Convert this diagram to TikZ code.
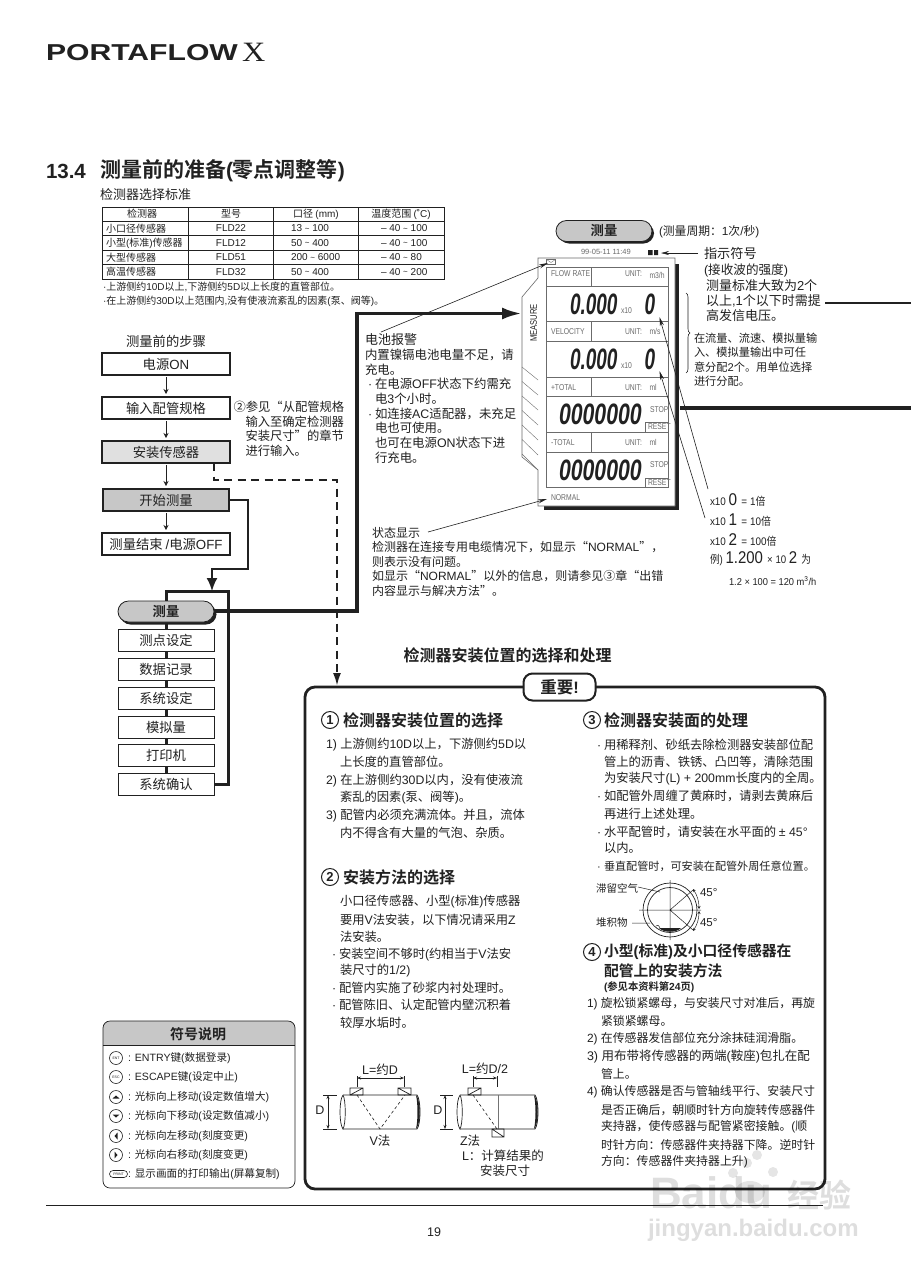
\documentclass[tikz,border=0pt]{standalone}
\usepackage{fontspec}
\usetikzlibrary{arrows.meta,decorations.pathreplacing,calc}
\setmainfont{Liberation Sans}
\newfontfamily\cjkf{Noto Sans CJK SC}[BoldFont={* Bold}]
\newfontfamily\latf{Liberation Sans}
\newfontfamily\serf{Liberation Serif}
\makeatletter
\XeTeXinterchartokenstate=1
\newXeTeXintercharclass\cjkclass
\@tempcnta="4E00 \loop \XeTeXcharclass\@tempcnta=\cjkclass \advance\@tempcnta 1 \ifnum\@tempcnta<"A000 \repeat
\@tempcnta="3000 \loop \XeTeXcharclass\@tempcnta=\cjkclass \advance\@tempcnta 1 \ifnum\@tempcnta<"3040 \repeat
\@tempcnta="FF00 \loop \XeTeXcharclass\@tempcnta=\cjkclass \advance\@tempcnta 1 \ifnum\@tempcnta<"FFF0 \repeat
\@tempcnta="2460 \loop \XeTeXcharclass\@tempcnta=\cjkclass \advance\@tempcnta 1 \ifnum\@tempcnta<"2474 \repeat
\XeTeXcharclass"201C=\cjkclass \XeTeXcharclass"201D=\cjkclass
\XeTeXinterchartoks 0 \cjkclass={\cjkf}
\XeTeXinterchartoks 4095 \cjkclass={\cjkf}
\XeTeXinterchartoks \cjkclass 0={\latf}
\XeTeXinterchartoks 4095 0={\latf}
\makeatother
\newcommand{\fs}[1]{\fontsize{#1}{#1}\selectfont}
\newcommand{\fl}[2]{\fontsize{#1}{#2}\selectfont}
\newcommand{\tld}{\raisebox{.5pt}{\scalebox{.8}{\textasciitilde}}}
\newcommand{\blt}{\makebox[7pt][l]{·}}
\newcommand{\serx}{{\XeTeXinterchartokenstate=0\relax\serf\fs{28}X}}
\definecolor{ink}{gray}{0.13}
\definecolor{pillgray}{gray}{0.78}
\definecolor{lcd}{gray}{0.42}
\tikzset{
 x=1pt,y=-1pt,
 every node/.style={inner sep=0pt,outer sep=0pt,text=ink},
 tl/.style={anchor=west,font=\fs{12.3}},
 tls/.style={anchor=west,font=\fs{11.9}},
 hd/.style={anchor=west,font=\fs{16}\bfseries},
 hds/.style={anchor=west,font=\fs{14.8}\bfseries},
 num/.style={circle,draw=ink,line width=1pt,minimum size=17pt,font=\fs{13}\bfseries},
 tb/.style={font=\fs{10}},
 flowbox/.style={draw=ink,line width=1.3pt,minimum width=128pt,minimum height=22pt,font=\fs{13.3},fill=white},
 menubox/.style={draw=ink,line width=.8pt,minimum width=96pt,minimum height=22pt,font=\fs{13.3},fill=white},
 pill/.style={draw=ink,line width=.8pt,rounded corners=10.5pt,fill=pillgray,minimum width=96pt,minimum height=21pt,font=\fs{13.3}\bfseries},
 pillsh/.style={fill=ink,rounded corners=10.5pt},
 flowarrow/.style={draw=ink,line width=1pt,-{Stealth[length=5pt,width=5pt]},shorten >=3pt,shorten <=2pt},
 lead/.style={draw=ink,line width=.6pt,-{Stealth[length=9pt,width=4pt]}},
 lcdt/.style={font=\fs{8.5},text=lcd,anchor=west},
 dim/.style={draw=ink,line width=.6pt,{Stealth[length=4pt,width=3pt]}-{Stealth[length=4pt,width=3pt]}},
 thin/.style={draw=ink,line width=.5pt},
 lg/.style={anchor=west,font=\fs{10.6}},
 key/.style={circle,draw=ink,line width=.6pt,minimum size=13pt,font=\fs{5}},
 wm/.style={text=black,text opacity=.13},
}
\newcommand{\seg}[2]{\scalebox{#1}[1.18]{\fs{25}\bfseries\itshape #2}}
\begin{document}
\begin{tikzpicture}
\useasboundingbox (0,0) rectangle (911,1280);
\fill[white] (0,0) rectangle (911,1280);
%% header
\node[anchor=west,font=\fs{23}\bfseries] (brand) at (46,52.5) {\scalebox{1.31}[1]{PORTAFLOW}};
\node[anchor=west] (brandx) at (242,52.5) {\scalebox{1.15}[1]{\serx}};
\node[anchor=west,font=\fs{20.5}\bfseries] (secn) at (46,171) {13.4};
\node[anchor=west,font=\fs{21}\bfseries] (sect) at (100,171) {测量前的准备(零点调整等)};
\node[anchor=west,font=\fs{13}] (tabt) at (100,195) {检测器选择标准};
%% table
\draw[ink,line width=1pt] (102,207) rectangle (444,279);
\foreach \yy in {221,235.5,250,264.5}{\draw[ink,line width=.5pt] (102,\yy) -- (444,\yy);}
\foreach \xx in {188,273,358.6}{\draw[ink,line width=.5pt] (\xx,207) -- (\xx,279);}
\node[tb] at (142,214) {检测器};
\node[tb] at (231,214) {型号};
\node[tb] at (316,214) {口径 (mm)};
\node[tb] at (401,214) {温度范围 (˚C)};
\node[tb,anchor=west] at (106,228.5) {小口径传感器};
\node[tb,anchor=west] at (106,243) {小型(标准)传感器};
\node[tb,anchor=west] at (106,257.5) {大型传感器};
\node[tb,anchor=west] at (106,272) {高温传感器};
\node[tb] at (231,228.5) {FLD22};
\node[tb] at (231,243) {FLD12};
\node[tb] at (231,257.5) {FLD51};
\node[tb] at (231,272) {FLD32};
\node[tb,anchor=west] at (291,228.5) {13 \tld{} 100};
\node[tb,anchor=west] at (291,243) {50 \tld{} 400};
\node[tb,anchor=west] at (291,257.5) {200 \tld{} 6000};
\node[tb,anchor=west] at (291,272) {50 \tld{} 400};
\node[tb,anchor=west] at (381,228.5) {– 40 \tld{} 100};
\node[tb,anchor=west] at (381,243) {– 40 \tld{} 100};
\node[tb,anchor=west] at (381,257.5) {– 40 \tld{} 80};
\node[tb,anchor=west] at (381,272) {– 40 \tld{} 200};
\node[tb,anchor=west] at (103,287) {·上游侧约10D以上,下游侧约5D以上长度的直管部位。};
\node[tb,anchor=west] at (103,301) {·在上游侧约30D以上范围内,没有使液流紊乱的因素(泵、阀等)。};
%% thick routes behind
\draw[ink,line width=3.6pt,-{Latex[length=20pt,width=12pt]}] (214,611) -- (357,611) -- (357,313.5) -- (522,313.5);
\coordinate (dashend) at (337,686);
\draw[ink,line width=2.2pt,dash pattern=on 8pt off 5.5pt,-{Latex[length=13pt,width=8pt]}] (214,463) -- (214,480) -- (337,480) -- (dashend);
%% flow
\node[font=\fs{13.3}] (ft) at (166,341) {测量前的步骤};
\node[flowbox,line width=1.5pt] (f1) at (166,364) {电源ON};
\node[flowbox] (f2) at (166,408) {输入配管规格};
\node[flowbox,fill=black!12] (f3) at (166,452) {安装传感器};
\node[flowbox,line width=2.6pt,fill=black!22,minimum width=126pt,minimum height=22pt] (f4) at (166,500) {开始测量};
\node[flowbox] (f5) at (166,544) {测量结束 /电源OFF};
\draw[flowarrow] (f1) -- (f2);
\draw[flowarrow] (f2) -- (f3);
\draw[flowarrow] (f3) -- (f4);
\draw[flowarrow] (f4) -- (f5);
\draw[ink,line width=1.8pt,-{Latex[length=13pt,width=11pt]}] (f4.east) -- (248,500) -- (248,569) -- (212,569) -- (212,591);
%% measure loop
\draw[ink,line width=3pt] (166,795) -- (166,591) -- (228,591) -- (228,784) -- (213,784);
\fill[pillsh] (120,604) rectangle (216.5,624.5);
\node[pill] (m0) at (166,611.5) {测量};
\node[menubox] (m1) at (166,640) {测点设定};
\node[menubox] (m2) at (166,669) {数据记录};
\node[menubox] (m3) at (166,698) {系统设定};
\node[menubox] (m4) at (166,727) {模拟量};
\node[menubox] (m5) at (166,755.5) {打印机};
\node[menubox] (m6) at (166,784) {系统确认};
%% flow notes
\node[anchor=north west,align=left,font=\fl{12.3}{14.65},text width=120pt] (n2) at (233.5,401) {②参见“从配管规格\\\hspace*{12pt}输入至确定检测器\\\hspace*{12pt}安装尺寸”的章节\\\hspace*{12pt}进行输入。};
\node[anchor=north west,align=left,font=\fl{12.4}{14.65},text width=170pt] (n3) at (365,334) {\fl{13}{14.65}电池报警\\\fl{12.4}{14.65}内置镍镉电池电量不足，请\\充电。\\\hspace*{3pt}\blt 在电源OFF状态下约需充\\\hspace*{10pt}电3个小时。\\\hspace*{3pt}\blt 如连接AC适配器，未充足\\\hspace*{10pt}电也可使用。\\\hspace*{10pt}也可在电源ON状态下进\\\hspace*{10pt}行充电。};
\node[anchor=north west,align=left,font=\fl{12}{14.5},text width=330pt] (n4) at (372,527) {状态显示\\检测器在连接专用电缆情况下，如显示“NORMAL”，\\则表示没有问题。\\如显示“NORMAL”以外的信息，则请参见③章“出错\\内容显示与解决方法”。};
%% right: panel
\fill[pillsh] (558.5,223) rectangle (654,243.5);
\node[pill] (p0) at (604,231) {测量};
\node[anchor=west,font=\fs{11.8}] (pc) at (659,232) {(测量周期：1次/秒)};
\node[lcdt,font=\fs{7.5}] at (581,252) {99-05-11 11:49};
\fill[ink] (648,250) rectangle (652.5,255) (654,250) rectangle (658,255);
\node[anchor=west,font=\fs{13.2}] (ind) at (704,253) {指示符号};
\draw[lead,-{Stealth[length=8pt,width=4pt]}] (ind.west) ++(-6,0) -- (661,253);
\node[anchor=west,font=\fs{12.6}] at (704,270) {(接收波的强度)};
\node[anchor=north west,align=left,font=\fl{13}{14.6}] at (706,280) {测量标准大致为2个\\以上,1个以下时需提\\高发信电压。};
\draw[ink,line width=1.6pt] (825,303) -- (911,303);
\draw[ink,line width=3.6pt] (680,408) -- (911,408);
\draw[ink,line width=.6pt,decorate,decoration={brace,amplitude=4pt}] (686,293) -- (686,373);
\node[anchor=north west,align=left,font=\fl{11.2}{14.4}] at (694,333) {在流量、流速、模拟量输\\入、模拟量输出中可任\\意分配2个。用单位选择\\进行分配。};
%% lcd
\fill[ink] (544,264) rectangle (679,510);
\filldraw[fill=white,draw=lcd,line width=.6pt] (538,258) -- (675,258) -- (675,506) -- (538,506) -- (538,470) -- (522,457) -- (522,297) -- (538,278) -- cycle;
\foreach \k in {0,...,6}{\draw[lcd,line width=.4pt] (522,{367+\k*14.5}) -- (538,{380+\k*15});}
\node[rotate=90,font=\fs{9.5},text=ink] (meas) at (533.5,323) {\scalebox{.8}[1]{MEASURE}};
\node[draw=lcd,line width=.5pt,minimum width=9pt,minimum height=5pt] (env) at (551,262) {};
\draw[lcd,line width=.4pt] (546.5,259.5) -- (551,262.5) -- (555.5,259.5);
\draw[lcd,line width=.6pt] (546,267) rectangle (668,487);
\foreach \yy in {286,321.5,341,377,396,432,452}{\draw[lcd,line width=.6pt] (546,\yy) -- (668,\yy);}
\foreach \a/\b in {267/286,321.5/341,377/396,432/452}{\draw[lcd,line width=.6pt] (591,\a) -- (591,\b);}
\draw[lcd,line width=.5pt] (645,432) -- (645,422) -- (668,422);
\draw[lcd,line width=.5pt] (645,487) -- (645,478) -- (668,478);
\foreach \tx/\ty/\txt in {551/274/FLOW RATE,551/332/VELOCITY,551/388/+TOTAL,551/443/-TOTAL,551/498/NORMAL,625/274/UNIT:,625/332/UNIT:,625/388/UNIT:,625/443/UNIT:,649.5/387/ml,649.5/442/ml,650/410/STOP,650/465/STOP,648/427/RESET,648/483/RESET}{\node[lcdt] at (\tx,\ty) {\scalebox{.8}[1]{\txt}};}
\node[lcdt] (um1) at (649.5,275) {\scalebox{.8}[1]{m3/h}};
\node[lcdt] (um2) at (649.5,331) {\scalebox{.8}[1]{m/s}};
\node[anchor=west] at (570,304) {\seg{.76}{0.000}};
\node[anchor=west,font=\fs{8.5},text=lcd] at (621,311) {\scalebox{.8}[1]{x10}};
\node[anchor=west] at (644.5,304) {\seg{.76}{0}};
\node[anchor=west] at (570,359) {\seg{.76}{0.000}};
\node[anchor=west,font=\fs{8.5},text=lcd] at (621,366) {\scalebox{.8}[1]{x10}};
\node[anchor=west] at (644.5,359) {\seg{.76}{0}};
\node[anchor=west] at (559,414) {\seg{.85}{0000000}};
\node[anchor=west] at (559,470) {\seg{.85}{0000000}};
\coordinate (wa) at (708,489);\coordinate (wb) at (705,518);
\draw[lead] (wa) -- (659.5,317);
\draw[lead] (wb) -- (659.5,371);
\draw[lead] (n3.north west) ++(16,-2) -- (548,263);
\draw[lead] (n4.north west) ++(56,5) -- (547,499);
%% multipliers
\node[anchor=west,font=\fs{11}] at (710,500) {\scalebox{.9}[1]{x10 \fs{17}0 \fs{11}= 1倍}};
\node[anchor=west,font=\fs{11}] at (710,520) {\scalebox{.9}[1]{x10 \fs{17}1 \fs{11}= 10倍}};
\node[anchor=west,font=\fs{11}] at (710,540) {\scalebox{.9}[1]{x10 \fs{17}2 \fs{11}= 100倍}};
\node[anchor=west,font=\fs{11}] at (710,559) {\scalebox{.88}[1]{例) \fs{17}1.200 \fs{11}× 10 \fs{17}2 \fs{11}为}};
\node[anchor=west,font=\fs{10}] at (729,581) {\scalebox{.93}[1]{1.2 × 100 = 120 m\textsuperscript{3}/h}};
%% important box
\node[font=\fs{16}\bfseries] (bt) at (507.5,655) {检测器安装位置的选择和处理};
\draw[ink,line width=2.8pt,rounded corners=10pt] (305,687) rectangle (825,1189);
\node[draw=ink,line width=2pt,rounded corners=9pt,fill=white,minimum width=72pt,minimum height=27pt,font=\fs{16.5}\bfseries] (imp) at (559.5,687) {重要!};
\node[num] at (330,720) {1};
\node[hd] at (343,720) {检测器安装位置的选择};
\foreach \tx/\ty/\txt in {326/745/1) 上游侧约10D以上，下游侧约5D以,340/762/上长度的直管部位。,326/781/2) 在上游侧约30D以内，没有使液流,340/798/紊乱的因素(泵、阀等)。,326/816/3) 配管内必须充满流体。并且，流体,340/833/内不得含有大量的气泡、杂质。}{\node[tl] at (\tx,\ty) {\txt};}
\node[num] at (330,877) {2};
\node[hd] at (343,877) {安装方法的选择};
\foreach \tx/\ty/\txt in {340/902/小口径传感器、小型(标准)传感器,340/920/要用V法安装，以下情况请采用Z,340/937/法安装。,332/955/\blt 安装空间不够时(约相当于V法安,332/988/\blt 配管内实施了砂浆内衬处理时。,332/1005/\blt 配管陈旧、认定配管内壁沉积着,340/1023/较厚水垢时。}{\node[tl] at (\tx,\ty) {\txt};}
\node[tl] (l12) at (340,971) {装尺寸的1/2)};
\node[num] at (592,720) {3};
\node[hd] at (604,720) {检测器安装面的处理};
\foreach \tx/\ty/\txt in {597/745/\blt 用稀释剂、砂纸去除检测器安装部位配,604/762/管上的沥青、铁锈、凸凹等，清除范围,604/779/为安装尺寸(L) + 200mm长度内的全周。,597/796/\blt 如配管外周缠了黄麻时，请剥去黄麻后,604/814/再进行上述处理。,597/832/\blt 水平配管时，请安装在水平面的 ± 45°,604/848/以内。}{\node[tl] at (\tx,\ty) {\txt};}
\node[tl,font=\fs{11.1}] at (597,866) {\blt 垂直配管时，可安装在配管外周任意位置。};
%% pipe cross-section
\draw[ink,line width=.7pt] (670,910) circle (27) ;
\draw[ink,line width=.7pt] (670,910) circle (22.5);
\fill[ink] (659,928) .. controls (664,933) and (676,933) .. (681,928) -- cycle;
\draw[thin] (656,926) .. controls (659,924) and (659,927) .. (660,928);
\draw[thin] (639,910) -- (701,910) (670,880) -- (670,940) (670,910) -- (693,890) (670,910) -- (693,930);
\draw[thin] (638,887) -- (660,892) (632,923) -- (650,923);
\draw[ink,line width=.5pt,{Stealth[length=3pt,width=3pt]}-{Stealth[length=3pt,width=3pt]}] (693,889) .. controls (697,895) and (699,901) .. (699,909);
\draw[ink,line width=.5pt,{Stealth[length=3pt,width=3pt]}-{Stealth[length=3pt,width=3pt]}] (699,911) .. controls (699,919) and (697,925) .. (693,931);
\node[anchor=west,font=\fs{10.5}] at (596,888) {滞留空气};
\node[anchor=west,font=\fs{10.5}] at (596,923) {堆积物};
\node[anchor=west,font=\fs{11.5}] at (700,893) {45°};
\node[anchor=west,font=\fs{11.5}] at (700,923) {45°};
\node[num] at (592,952) {4};
\node[hds] at (604,952) {小型(标准)及小口径传感器在};
\node[hds] at (604,971) {配管上的安装方法};
\node[anchor=west,font=\fs{10.3}\bfseries] at (604,987) {(参见本资料第24页)};
\foreach \tx/\ty/\txt in {587/1004/1) 旋松锁紧螺母，与安装尺寸对准后，再旋,601/1021/紧锁紧螺母。,587/1039/2) 在传感器发信部位充分涂抹硅润滑脂。,601/1074/管上。,587/1092/4) 确认传感器是否与管轴线平行、安装尺寸,601/1110/是否正确后，朝顺时针方向旋转传感器件,601/1127/夹持器，使传感器与配管紧密接触。(顺,601/1145/时针方向：传感器件夹持器下降。逆时针,601/1162/方向：传感器件夹持器上升)}{\node[tls] at (\tx,\ty) {\txt};}
\node[tl,font=\fs{12.5}] at (587,1056) {3) 用布带将传感器的两端(鞍座)包扎在配};
%% V pipe
\fill[ink] (416,1095) .. controls (421,1100) and (421,1124) .. (416,1129) .. controls (418,1120) and (418,1104) .. (416,1095);
\draw[ink,line width=.8pt] (343,1095) -- (417,1095) .. controls (421,1100) and (421,1124) .. (417,1129) -- (343,1129);
\draw[ink,line width=.7pt] (343,1095) .. controls (339,1100) and (339,1124) .. (343,1129) .. controls (346,1124) and (346,1100) .. (343,1095);
\draw[ink,line width=.6pt,dash pattern=on 3pt off 2.5pt] (357,1095) -- (380,1129) -- (405,1095);
\draw[ink,line width=.7pt] (350,1088) rectangle (363,1095) (350,1095) -- (363,1088);
\draw[ink,line width=.7pt] (398,1088) rectangle (411,1095) (398,1088) -- (411,1095);
\draw[thin] (357,1076) -- (357,1087) (404,1076) -- (404,1087);
\draw[dim] (357,1078) -- (404,1078);
\draw[thin] (323,1095) -- (337,1095) (323,1129) -- (337,1129);
\draw[dim] (328,1095) -- (328,1129);
\node[font=\fs{12.5}] at (380,1070) {L=约D};
\node[font=\fs{12.5}] at (320,1110) {D};
\node[font=\fs{12.5}] at (380,1141) {V法};
%% Z pipe
\draw[ink,line width=.8pt] (460,1095) -- (535,1095) .. controls (539,1100) and (539,1124) .. (535,1129) -- (460,1129);
\fill[ink] (534,1095) .. controls (539,1100) and (539,1124) .. (534,1129) .. controls (536,1120) and (536,1104) .. (534,1095);
\draw[ink,line width=.7pt] (460,1095) .. controls (456,1100) and (456,1124) .. (460,1129) .. controls (463,1124) and (463,1100) .. (460,1095);
\draw[black!55,line width=.8pt] (498,1095) -- (498,1129);
\draw[ink,line width=.6pt,dash pattern=on 3pt off 2.5pt] (473,1095) -- (497,1129);
\draw[ink,line width=.7pt] (468,1088) rectangle (481,1095) (468,1095) -- (481,1088);
\draw[ink,line width=.7pt] (492,1129) rectangle (504,1137) (492,1129) -- (504,1137);
\draw[thin] (473,1076) -- (473,1087) (497,1076) -- (497,1087);
\draw[dim] (473,1078) -- (497,1078);
\draw[thin] (440,1095) -- (453,1095) (440,1129) -- (453,1129);
\draw[dim] (445,1095) -- (445,1129);
\node[font=\fs{12.5}] at (485,1069) {L=约D/2};
\node[font=\fs{12.5}] at (438,1110) {D};
\node[anchor=west,font=\fs{12.5}] at (460,1141) {Z法};
\node[anchor=west,font=\fs{12.5}] at (462,1156) {L：计算结果的};
\node[anchor=west,font=\fs{12.5}] at (480,1171) {安装尺寸};
%% legend
\fill[black!22,rounded corners=6pt] (103,1021) -- (295,1021) -- (295,1045) -- (103,1045) -- cycle;
\fill[black!22] (103,1035) rectangle (295,1045);
\draw[ink,line width=.7pt,rounded corners=7pt] (103,1021) rectangle (295,1188);
\draw[ink,line width=.5pt] (103,1045) -- (295,1045);
\node[font=\fs{14}\bfseries] at (198,1034) {符号说明};
\node[key] at (116,1058) {\scalebox{.7}{ENT}};
\node[key] at (116,1077) {\scalebox{.7}{ESC}};
\node[key] (ku) at (116,1097) {};
\node[key] (kd) at (116,1116) {};
\node[key] (kl) at (116,1136) {};
\node[key] (kr) at (116,1155) {};
\fill[ink] (112.5,1098.5) -- (119.5,1098.5) -- (116,1095.5) -- cycle;
\fill[ink] (112.5,1114.5) -- (119.5,1114.5) -- (116,1117.5) -- cycle;
\fill[ink] (117.5,1132.5) -- (117.5,1139.5) -- (114.5,1136) -- cycle;
\fill[ink] (114.5,1151.5) -- (114.5,1158.5) -- (117.5,1155) -- cycle;
\node[draw=ink,line width=.6pt,rounded corners=3.5pt,minimum width=18pt,minimum height=7pt,font=\fs{5}] at (118.5,1174) {\scalebox{.7}{PRINT}};
\foreach \ty/\txt in {1058/ENTRY键(数据登录),1077/ESCAPE键(设定中止),1097/光标向上移动(设定数值增大),1116/光标向下移动(设定数值减小),1136/光标向左移动(刻度变更),1155/光标向右移动(刻度变更),1174/显示画面的打印输出(屏幕复制)}{\node[lg] at (128,\ty) {: \txt};}
%% foot
\draw[ink,line width=.9pt] (46,1205) -- (823,1205);
\node[font=\fs{12.5}] at (434,1232) {19};
%% watermark
\fill[black,opacity=.1] (747,1163) circle (5) (757,1155) circle (5) (773,1172) circle (5) (733,1173) circle (5) (750,1192) ellipse (15 and 11);
\node[wm,anchor=west,font=\fs{44}\bfseries] (wb1) at (650,1193) {Baidu};
\node[wm,anchor=west,font=\fs{32}\bfseries] (wb2) at (787,1195) {经验};
\node[wm,anchor=west,font=\fs{24}\bfseries] (wb3) at (648,1230) {jingyan.baidu.com};
\end{tikzpicture}
\end{document}
